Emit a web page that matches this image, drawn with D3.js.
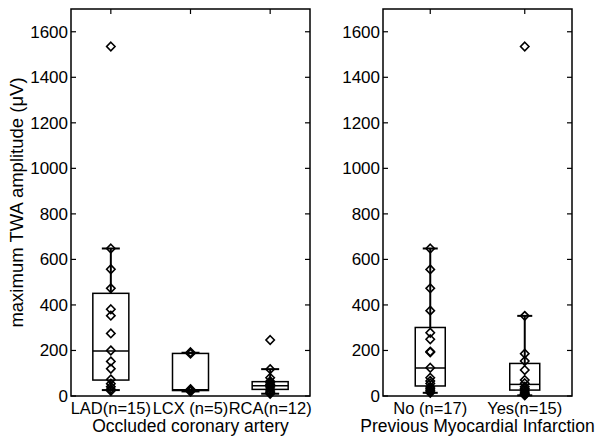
<!DOCTYPE html>
<html>
<head>
<meta charset="utf-8">
<script src="https://cdn.jsdelivr.net/npm/d3@7/dist/d3.min.js"></script>
<style>
  html, body { margin: 0; padding: 0; background: #fff; }
  svg { display: block; font-family: "Liberation Sans", Arial, sans-serif; }
</style>
</head>
<body>
<svg id="chart" width="609" height="437"></svg>
<script>
'use strict';

// ── data ──────────────────────────────────────────────────────────
const Y_TICKS = [0, 200, 400, 600, 800, 1000, 1200, 1400, 1600];

// left panel: occluded coronary artery
const arteryCats   = ['LAD(n=15)', 'LCX (n=5)', 'RCA(n=12)'];
const arteryPoints = [
  [1535, 648, 557, 473, 381, 353, 275, 200, 152, 120, 73, 54, 41, 30, 23],
  [192, 186, 30, 25, 20],
  [246, 118, 80, 65, 58, 50, 45, 40, 30, 22, 15, 10],
];
// [whiskerLow, q1, median, q3, whiskerHigh]
const arteryBoxes = [
  [26, 70, 198, 451, 648],
  [20, 24, 28, 187, 190],
  [10, 29, 45, 63, 118],
];

// right panel: previous myocardial infarction
const miCats   = ['No (n=17)', 'Yes(n=15)'];
const miPoints = [
  [648, 556, 473, 375, 278, 249, 195, 192, 124, 80, 66, 55, 40, 32, 25, 18, 14],
  [1535, 352, 186, 154, 114, 70, 56, 41, 33, 26, 18, 12, 8, 5, 3],
];
const miBoxes = [
  [14, 44, 123, 301, 648],
  [3, 26, 51, 143, 352],
];

// ── layout ────────────────────────────────────────────────────────
const svg = d3.select('#chart');
const TOP = 9, BOTTOM = 396;
const y = d3.scaleLinear().domain([0, 1700]).range([BOTTOM, TOP]);

const diamond = 'M0,-4.3L4.2,0L0,4.3L-4.2,0Z';

function panel(x0, x1, cats, points, boxes, boxW, xlabel) {
  const x = d3.scaleLinear().domain([0.5, cats.length + 0.5]).range([x0, x1]);
  const g = svg.append('g');
  const tk = 5;

  // frame
  g.append('rect')
    .attr('x', x0).attr('y', TOP)
    .attr('width', x1 - x0).attr('height', BOTTOM - TOP)
    .attr('fill', 'none').attr('stroke', '#000').attr('stroke-width', 1.5);

  // y ticks (inside, both sides) + labels on the left
  Y_TICKS.forEach(v => {
    const yy = y(v);
    g.append('line').attr('x1', x0).attr('x2', x0 + tk).attr('y1', yy).attr('y2', yy)
      .attr('stroke', '#000').attr('stroke-width', 1.2);
    g.append('line').attr('x1', x1).attr('x2', x1 - tk).attr('y1', yy).attr('y2', yy)
      .attr('stroke', '#000').attr('stroke-width', 1.2);
    g.append('text').attr('x', x0 - 3).attr('y', yy).attr('dy', '0.35em')
      .attr('text-anchor', 'end').attr('font-size', 17).text(v);
  });

  // x ticks top/bottom + category labels
  cats.forEach((c, i) => {
    const xx = x(i + 1);
    g.append('line').attr('x1', xx).attr('x2', xx).attr('y1', TOP).attr('y2', TOP + tk)
      .attr('stroke', '#000').attr('stroke-width', 1.2);
    g.append('line').attr('x1', xx).attr('x2', xx).attr('y1', BOTTOM).attr('y2', BOTTOM - tk)
      .attr('stroke', '#000').attr('stroke-width', 1.2);
    g.append('text').attr('x', xx).attr('y', 414)
      .attr('text-anchor', 'middle').attr('font-size', 16.5).text(c);
  });

  g.append('text').attr('x', (x0 + x1) / 2).attr('y', 432)
    .attr('text-anchor', 'middle').attr('font-size', 17.5).text(xlabel);

  // boxes
  boxes.forEach((b, i) => {
    const cx = x(i + 1);
    const [lo, q1, med, q3, hi] = b;
    const hw = boxW / 2, cw = boxW / 4;
    const bg = g.append('g').attr('stroke', '#000').attr('fill', 'none');
    bg.append('line').attr('x1', cx).attr('x2', cx).attr('y1', y(q3)).attr('y2', y(hi)).attr('stroke-width', 2);
    bg.append('line').attr('x1', cx).attr('x2', cx).attr('y1', y(q1)).attr('y2', y(lo)).attr('stroke-width', 2);
    bg.append('line').attr('x1', cx - cw).attr('x2', cx + cw).attr('y1', y(hi)).attr('y2', y(hi)).attr('stroke-width', 2);
    bg.append('line').attr('x1', cx - cw).attr('x2', cx + cw).attr('y1', y(lo)).attr('y2', y(lo)).attr('stroke-width', 2);
    bg.append('rect').attr('x', cx - hw).attr('y', y(q3))
      .attr('width', boxW).attr('height', y(q1) - y(q3)).attr('stroke-width', 1.5);
    bg.append('line').attr('x1', cx - hw).attr('x2', cx + hw).attr('y1', y(med)).attr('y2', y(med)).attr('stroke-width', 1.5);
  });

  // data points
  points.forEach((pts, i) => {
    const cx = x(i + 1);
    g.selectAll(null).data(pts).enter().append('path')
      .attr('d', diamond)
      .attr('transform', v => `translate(${cx},${y(v)})`)
      .attr('fill', 'none').attr('stroke', '#000').attr('stroke-width', 1.6);
  });
}

panel(71, 310, arteryCats, arteryPoints, arteryBoxes, 36, 'Occluded coronary artery');
panel(383, 572, miCats, miPoints, miBoxes, 30, 'Previous Myocardial Infarction');

// y axis title
svg.append('text')
  .attr('transform', `translate(23,${(TOP + BOTTOM) / 2}) rotate(-90)`)
  .attr('text-anchor', 'middle').attr('font-size', 18.5)
  .text('maximum TWA amplitude (\u03bcV)');
</script>
</body>
</html>
